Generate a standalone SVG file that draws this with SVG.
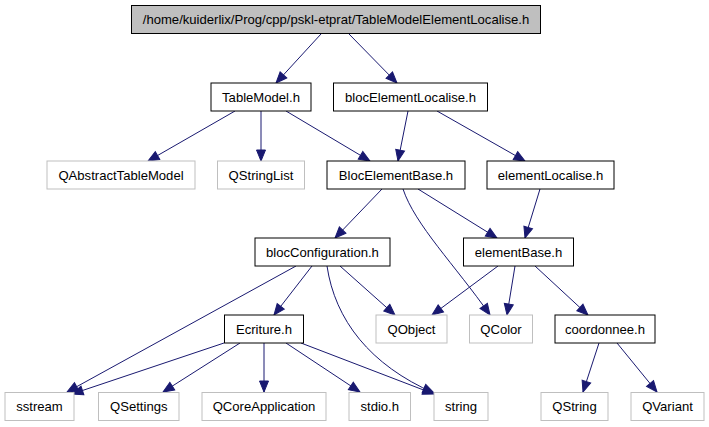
<svg xmlns="http://www.w3.org/2000/svg" width="709" height="427" viewBox="0 0 709 427">
<defs>
<marker id="ah" markerUnits="userSpaceOnUse" markerWidth="14" markerHeight="12" refX="11" refY="5" orient="auto" overflow="visible">
<path d="M0,0.5 L11,5 L0,9.5 z" fill="#191970" stroke="#191970" stroke-width="1"/>
</marker>
</defs>
<style>
.n rect{fill:#ffffff;stroke:#000000;stroke-width:1}
.g rect{fill:#ffffff;stroke:#bfbfbf;stroke-width:1}
.r rect{fill:#bfbfbf;stroke:#000000;stroke-width:1}
text{font-family:"Liberation Sans",Arial,sans-serif;font-size:13.1px;fill:#000000;text-anchor:middle}
#edges path{fill:none;stroke:#191970;stroke-width:1;marker-end:url(#ah)}
</style>
<g id="edges">
<path d="M321,34 L276,83"/>
<path d="M349,34 L397,83"/>
<path d="M235,111 L148,161"/>
<path d="M261,111 L261,161"/>
<path d="M286,111 L370,161"/>
<path d="M408,111 L398,161"/>
<path d="M437,111 L525,161"/>
<path d="M382,189 L335,238"/>
<path d="M403,189 C415,225 455,265 490,315"/>
<path d="M418,189 L497,238"/>
<path d="M540,189 L525,238"/>
<path d="M296,266 L67,392"/>
<path d="M312,266 L274,315"/>
<path d="M327,266 C335,320 370,365 434,393"/>
<path d="M340,266 L395,315"/>
<path d="M498,266 L432,315"/>
<path d="M515,266 L507,315"/>
<path d="M535,266 L588,315"/>
<path d="M224,343 L72,394"/>
<path d="M240,343 L163,392"/>
<path d="M264,343 L264,392"/>
<path d="M286,343 L360,392"/>
<path d="M301,343 L434,394"/>
<path d="M599,343 L583,392"/>
<path d="M617,343 L657,392"/>
</g>
<g id="root" class="r"><rect x="131.5" y="5.5" width="409" height="28"/><text x="336" y="24">/home/kuiderlix/Prog/cpp/pskl-etprat/TableModelElementLocalise.h</text></g>
<g id="TableModel" class="n"><rect x="211" y="83" width="100" height="28"/><text x="261" y="101.5">TableModel.h</text></g>
<g id="blocElementLocalise" class="n"><rect x="333.5" y="83" width="154" height="28"/><text x="410.5" y="101.5">blocElementLocalise.h</text></g>
<g id="QAbstractTableModel" class="g"><rect x="47" y="161" width="148" height="28"/><text x="121" y="179.5">QAbstractTableModel</text></g>
<g id="QStringList" class="g"><rect x="217.5" y="161" width="87" height="28"/><text x="261" y="179.5">QStringList</text></g>
<g id="BlocElementBase" class="n"><rect x="327" y="161" width="138" height="28"/><text x="396" y="179.5">BlocElementBase.h</text></g>
<g id="elementLocalise" class="n"><rect x="487" y="161" width="127" height="28"/><text x="550.5" y="179.5">elementLocalise.h</text></g>
<g id="blocConfiguration" class="n"><rect x="255" y="238" width="135" height="28"/><text x="322.5" y="256.5">blocConfiguration.h</text></g>
<g id="elementBase" class="n"><rect x="463.5" y="238" width="110" height="28"/><text x="518.5" y="256.5">elementBase.h</text></g>
<g id="Ecriture" class="n"><rect x="224.5" y="315" width="79" height="28"/><text x="264" y="333.5">Ecriture.h</text></g>
<g id="QObject" class="g"><rect x="376" y="315" width="71" height="28"/><text x="411.5" y="333.5">QObject</text></g>
<g id="QColor" class="g"><rect x="469.5" y="315" width="63" height="28"/><text x="501" y="333.5">QColor</text></g>
<g id="coordonnee" class="n"><rect x="555" y="315" width="100" height="28"/><text x="605" y="333.5">coordonnee.h</text></g>
<g id="sstream" class="g"><rect x="5" y="392.5" width="69" height="28"/><text x="39.5" y="411">sstream</text></g>
<g id="QSettings" class="g"><rect x="98.5" y="392.5" width="80.5" height="28"/><text x="138.75" y="411">QSettings</text></g>
<g id="QCoreApplication" class="g"><rect x="202" y="392.5" width="124" height="28"/><text x="264" y="411">QCoreApplication</text></g>
<g id="stdio" class="g"><rect x="349" y="392.5" width="61.5" height="28"/><text x="379.75" y="411">stdio.h</text></g>
<g id="string" class="g"><rect x="434" y="392.5" width="54" height="28"/><text x="461" y="411">string</text></g>
<g id="QString" class="g"><rect x="541" y="392.5" width="67" height="28"/><text x="574.5" y="411">QString</text></g>
<g id="QVariant" class="g"><rect x="631" y="392.5" width="73" height="28"/><text x="667.5" y="411">QVariant</text></g>
</svg>
